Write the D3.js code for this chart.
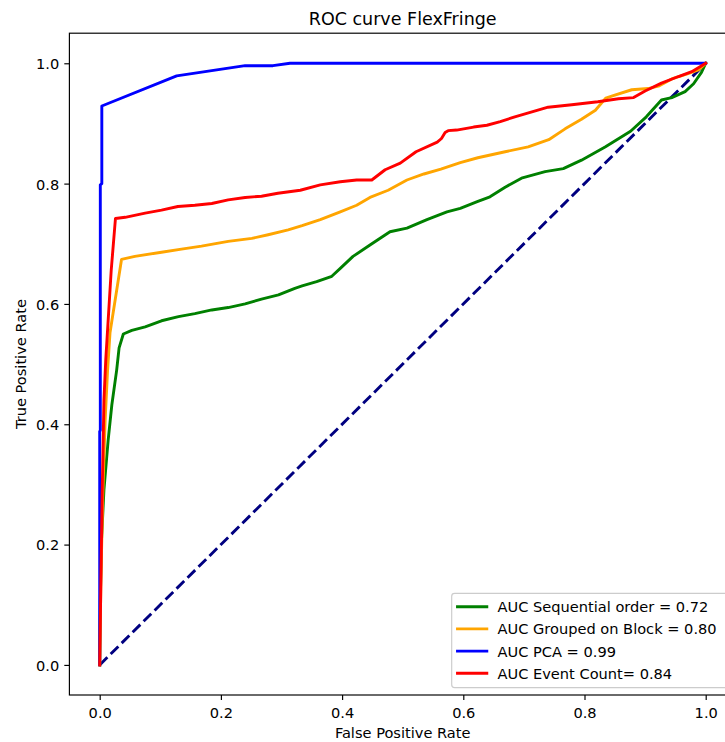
<!DOCTYPE html>
<html>
<head>
<meta charset="utf-8">
<script src="https://cdn.jsdelivr.net/npm/d3@7"></script>
<style>
  html, body { margin: 0; padding: 0; background: #fff; }
  svg { display: block; font-family: "DejaVu Sans", sans-serif; }
</style>
</head>
<body>
<div id="chart"></div>
<script>
// ---- data ----
const seqFpr = [0, 0.001, 0.003, 0.007, 0.014, 0.020, 0.028, 0.032, 0.039, 0.053, 0.075, 0.102, 0.130, 0.157, 0.185, 0.212, 0.240, 0.267, 0.295, 0.322, 0.334, 0.358, 0.383, 0.397, 0.418, 0.446, 0.479, 0.507, 0.540, 0.573, 0.595, 0.623, 0.644, 0.669, 0.696, 0.735, 0.765, 0.795, 0.834, 0.876, 0.902, 0.927, 0.944, 0.966, 0.980, 0.993, 1];
const seqTpr = [0, 0.108, 0.208, 0.291, 0.374, 0.432, 0.490, 0.527, 0.550, 0.556, 0.562, 0.572, 0.579, 0.584, 0.590, 0.594, 0.600, 0.608, 0.615, 0.626, 0.630, 0.637, 0.646, 0.659, 0.679, 0.698, 0.720, 0.726, 0.740, 0.753, 0.759, 0.770, 0.778, 0.794, 0.809, 0.820, 0.825, 0.839, 0.861, 0.887, 0.911, 0.939, 0.943, 0.953, 0.966, 0.985, 1];

const blockFpr = [0, 0.002, 0.005, 0.009, 0.013, 0.017, 0.036, 0.058, 0.102, 0.135, 0.168, 0.212, 0.251, 0.278, 0.311, 0.334, 0.364, 0.397, 0.424, 0.446, 0.476, 0.507, 0.535, 0.563, 0.595, 0.624, 0.669, 0.707, 0.741, 0.768, 0.795, 0.818, 0.835, 0.850, 0.878, 0.905, 0.922, 0.944, 0.971, 0.988, 1];
const blockTpr = [0, 0.141, 0.279, 0.407, 0.490, 0.552, 0.674, 0.679, 0.686, 0.691, 0.696, 0.704, 0.709, 0.715, 0.723, 0.730, 0.740, 0.753, 0.764, 0.777, 0.789, 0.806, 0.816, 0.824, 0.835, 0.843, 0.853, 0.861, 0.873, 0.891, 0.907, 0.922, 0.942, 0.947, 0.956, 0.958, 0.962, 0.974, 0.983, 0.989, 1];

const pcaFpr = [0, 0, 0.001, 0.001, 0.0035, 0.0035, 0.127, 0.240, 0.286, 0.314, 1];
const pcaTpr = [0, 0.388, 0.390, 0.798, 0.800, 0.929, 0.979, 0.996, 0.996, 1, 1];

const countFpr = [0, 0.002, 0.004, 0.007, 0.010, 0.019, 0.026, 0.042, 0.075, 0.102, 0.129, 0.157, 0.185, 0.212, 0.240, 0.267, 0.294, 0.331, 0.364, 0.397, 0.424, 0.449, 0.471, 0.496, 0.522, 0.557, 0.564, 0.570, 0.575, 0.589, 0.617, 0.639, 0.661, 0.685, 0.740, 0.779, 0.822, 0.856, 0.881, 0.900, 0.927, 0.955, 0.977, 1];
const countTpr = [0, 0.141, 0.279, 0.440, 0.507, 0.656, 0.742, 0.744, 0.751, 0.756, 0.762, 0.764, 0.767, 0.773, 0.777, 0.779, 0.784, 0.789, 0.798, 0.803, 0.806, 0.806, 0.823, 0.834, 0.853, 0.869, 0.875, 0.885, 0.888, 0.889, 0.894, 0.897, 0.903, 0.911, 0.927, 0.931, 0.936, 0.941, 0.943, 0.954, 0.967, 0.978, 0.986, 1];

const chanceFpr = [0, 1];
const chanceTpr = [0, 1];

const seriesLabels = ["AUC Sequential order = 0.72", "AUC Grouped on Block = 0.80", "AUC PCA = 0.99", "AUC Event Count= 0.84"];
const xTicks = [0.0, 0.2, 0.4, 0.6, 0.8, 1.0];
const yTicks = [0.0, 0.2, 0.4, 0.6, 0.8, 1.0];
const titleText = "ROC curve FlexFringe";
const xLabelText = "False Positive Rate";
const yLabelText = "True Positive Rate";

// ---- styles / layout ----
const seriesColors = ["#008000", "#FFA500", "#0000FF", "#FF0000"];
const W = 725, H = 742;
const L = 69.4, R = 736, T = 33.2, B = 695;
const FS = 14.6;
const LW = 2.9;

const svg = d3.select("#chart").append("svg")
  .attr("width", W).attr("height", H).attr("viewBox", `0 0 ${W} ${H}`);

const x = d3.scaleLinear().domain([-0.05, 1.05]).range([L, R]);
const y = d3.scaleLinear().domain([-0.05, 1.05]).range([B, T]);

svg.append("defs").append("clipPath").attr("id", "plotclip")
  .append("rect").attr("x", L).attr("y", T).attr("width", R - L).attr("height", B - T);

const plot = svg.append("g").attr("clip-path", "url(#plotclip)");
const line = d3.line().x(d => x(d[0])).y(d => y(d[1]));

// chance diagonal
plot.append("path")
  .datum(d3.zip(chanceFpr, chanceTpr))
  .attr("d", line)
  .attr("fill", "none")
  .attr("stroke", "#000080")
  .attr("stroke-width", LW)
  .attr("stroke-dasharray", "10.8,4.67")
  .attr("stroke-linecap", "butt");

const series = [
  [seqFpr, seqTpr],
  [blockFpr, blockTpr],
  [pcaFpr, pcaTpr],
  [countFpr, countTpr]
];
series.forEach((s, i) => {
  plot.append("path")
    .datum(d3.zip(s[0], s[1]))
    .attr("d", line)
    .attr("fill", "none")
    .attr("stroke", seriesColors[i])
    .attr("stroke-width", LW)
    .attr("stroke-linejoin", "round")
    .attr("stroke-linecap", "square");
});

// axes
const xAxis = d3.axisBottom(x).tickValues(xTicks).tickFormat(d3.format(".1f"))
  .tickSize(5.1).tickSizeOuter(0).tickPadding(7.5);
const yAxis = d3.axisLeft(y).tickValues(yTicks).tickFormat(d3.format(".1f"))
  .tickSize(5.1).tickSizeOuter(0).tickPadding(5.1);

const gx = svg.append("g").attr("transform", `translate(0,${B})`).call(xAxis);
const gy = svg.append("g").attr("transform", `translate(${L},0)`).call(yAxis);
[gx, gy].forEach(g => {
  g.selectAll("text").attr("font-size", FS).attr("font-family", "DejaVu Sans").attr("fill", "#000");
  g.selectAll("line").attr("stroke", "#000").attr("stroke-width", 1.17);
  g.select(".domain").attr("stroke", "none");
});
gy.selectAll("text").attr("dy", "0.37em");

// spines
svg.append("rect").attr("x", L).attr("y", T).attr("width", R - L).attr("height", B - T)
  .attr("fill", "none").attr("stroke", "#000").attr("stroke-width", 1.17);

// title & labels
svg.append("text").attr("x", (L + R) / 2).attr("y", 25)
  .attr("text-anchor", "middle").attr("font-size", 17.5).attr("fill", "#000").text(titleText);
svg.append("text").attr("x", (L + R) / 2).attr("y", 738)
  .attr("text-anchor", "middle").attr("font-size", FS).attr("fill", "#000").text(xLabelText);
svg.append("text").attr("transform", `translate(25.7,${(T + B) / 2}) rotate(-90)`)
  .attr("text-anchor", "middle").attr("font-size", FS).attr("fill", "#000").text(yLabelText);

// legend
const lg = svg.append("g");
const lx = 451.7, ly = 593.3, lwid = 277, lht = 94.4;
lg.append("rect").attr("x", lx).attr("y", ly).attr("width", lwid).attr("height", lht)
  .attr("rx", 2.9).attr("ry", 2.9)
  .attr("fill", "#fff").attr("fill-opacity", 0.8)
  .attr("stroke", "#cccccc").attr("stroke-width", 1.17);
seriesLabels.forEach((lab, i) => {
  const cy = 606.7 + i * 22.2;
  lg.append("line").attr("x1", 457.5).attr("x2", 486.8).attr("y1", cy).attr("y2", cy)
    .attr("stroke", seriesColors[i]).attr("stroke-width", LW).attr("stroke-linecap", "square");
  lg.append("text").attr("x", 497.5).attr("y", cy + 5.5)
    .attr("font-size", FS).attr("fill", "#000").text(lab);
});
</script>
</body>
</html>
